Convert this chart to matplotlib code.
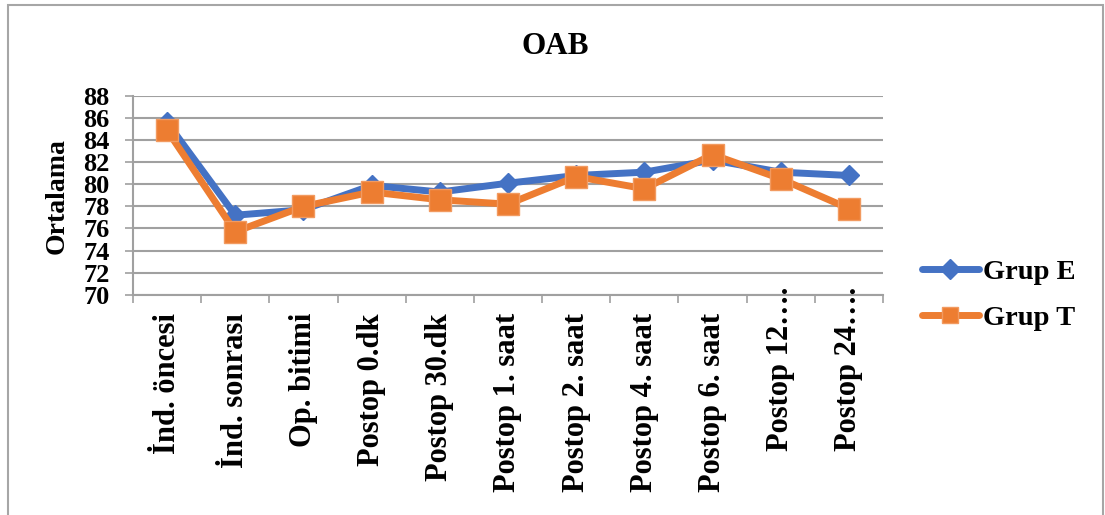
import matplotlib
matplotlib.use("Agg")
import matplotlib.pyplot as plt
from matplotlib.patches import Rectangle
from matplotlib.transforms import blended_transform_factory

# Time points (category labels) and group means
categories = ["İnd. öncesi", "İnd. sonrası", "Op. bitimi", "Postop 0.dk",
              "Postop 30.dk", "Postop 1. saat", "Postop 2. saat",
              "Postop 4. saat", "Postop 6. saat", "Postop 12….", "Postop 24…."]
grup_e = [85.6, 77.2, 77.7, 79.9, 79.3, 80.1, 80.8, 81.1, 82.2, 81.1, 80.8]
grup_t = [84.9, 75.7, 78.0, 79.3, 78.6, 78.2, 80.7, 79.6, 82.7, 80.5, 77.8]
y_ticks = list(range(70, 89, 2))

BLUE = "#4472C4"
ORANGE = "#ED7D31"
GRID = "#A0A0A0"
FONT = "Liberation Serif"

plt.rcParams["font.family"] = [FONT, "DejaVu Serif"]
plt.rcParams["font.weight"] = "bold"

W, H = 1105, 515
fig = plt.figure(figsize=(W / 100, H / 100), dpi=100)

# outer chart frame
fig.patches.append(Rectangle((8 / W, -0.05), 1095 / W, 1.05 - 5 / H,
                             transform=fig.transFigure, fill=False,
                             edgecolor="#A6A6A6", linewidth=1.5))

ax = fig.add_axes([133 / W, 1 - 294.7 / H, 750 / W, (294.7 - 96) / H])
x = list(range(len(categories)))

ax.plot(x, grup_e, color=BLUE, linewidth=5, marker="D", markersize=10.5,
        markerfacecolor=BLUE, markeredgecolor=BLUE, label="Grup E",
        solid_capstyle="round", solid_joinstyle="round", zorder=3)
ax.plot(x, grup_t, color=ORANGE, linewidth=5, marker="s", markersize=16,
        markerfacecolor=ORANGE, markeredgecolor="#F29A60", markeredgewidth=1,
        label="Grup T", solid_capstyle="round", solid_joinstyle="round",
        zorder=4)

ax.set_xlim(-0.5, len(categories) - 0.5)
ax.set_ylim(70, 88)
ax.set_yticks(y_ticks)
ax.set_yticklabels([str(v) for v in y_ticks], fontsize=19, fontweight="bold")
ax.yaxis.grid(True, color=GRID, linewidth=1.5)
ax.set_axisbelow(True)
ax.tick_params(axis="y", length=6, width=1.2, color=GRID, pad=11)

# x ticks on category boundaries, labels drawn separately
ax.set_xticks([i - 0.5 for i in range(len(categories) + 1)])
ax.set_xticklabels([])
ax.tick_params(axis="x", length=6, width=1.2, color=GRID)

for side in ["top", "right"]:
    ax.spines[side].set_visible(False)
for side in ["left", "bottom"]:
    ax.spines[side].set_color(GRID)
    ax.spines[side].set_linewidth(1.5)

trans = blended_transform_factory(ax.transData, ax.transAxes)
for i, lab in enumerate(categories):
    top = -(313 - 294.7) / (294.7 - 96)
    if lab.endswith("…."):
        top = (294.7 - 287) / (294.7 - 96)
    ax.text(i, top, lab, transform=trans, rotation=90, ha="center", va="top",
            fontsize=22, fontweight="bold", color="black")

fig.text(555 / W, 1 - 46 / H, "OAB", ha="center", va="center",
         fontsize=22.5, fontweight="bold")
fig.text(57 / W, 1 - 196 / H, "Ortalama", ha="center", va="center",
         rotation=90, fontsize=20, fontweight="bold")

leg = fig.legend(loc="upper left", bbox_to_anchor=(922 / W, 1 - 259 / H),
                 frameon=False, fontsize=20.5, handlelength=2.0,
                 handletextpad=0.15, labelspacing=0.7, borderaxespad=0,
                 borderpad=0)
for t in leg.get_texts():
    t.set_fontweight("bold")
leg.legend_handles[1].set_markersize(12)

fig.savefig("out.png", dpi=100)
